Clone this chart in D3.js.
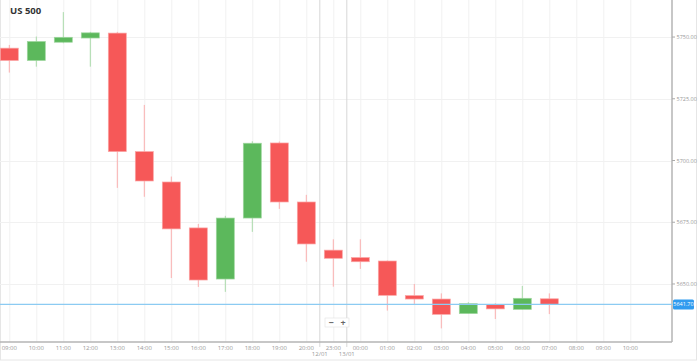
<!DOCTYPE html>
<html>
<head>
<meta charset="utf-8">
<script src="https://cdn.jsdelivr.net/npm/d3@7"></script>
<style>
  html, body { margin: 0; padding: 0; background: #fff; }
  svg { display: block; font-family: "Open Sans", Roboto, sans-serif; }
</style>
</head>
<body>
<script>
// hour slots on the axis (21:00 and 22:00 are closed)
var slots = ["09:00","10:00","11:00","12:00","13:00","14:00","15:00","16:00","17:00","18:00","19:00","20:00",
             "23:00","00:00","01:00","02:00","03:00","04:00","05:00","06:00","07:00","08:00","09:00","10:00"];
// candles, one per slot from 09:00 to 07:00
var open  = [5745.5, 5740.5, 5747.9, 5749.6, 5751.6, 5703.6, 5691.3, 5672.7, 5652.0, 5676.7, 5707.1,
             5683.2, 5663.7, 5660.7, 5659.3, 5645.3, 5643.9, 5638.0, 5641.6, 5639.7, 5644.0];
var high  = [5746.8, 5750.2, 5760.1, 5752.1, 5752.1, 5722.5, 5693.5, 5674.3, 5677.6, 5707.8, 5707.7,
             5686.1, 5668.1, 5668.1, 5659.5, 5650.0, 5646.2, 5642.6, 5642.2, 5649.2, 5646.2];
var low   = [5735.6, 5738.0, 5747.5, 5738.0, 5688.9, 5685.3, 5652.4, 5648.8, 5646.8, 5671.1, 5680.4,
             5659.0, 5648.9, 5656.1, 5639.2, 5641.9, 5632.0, 5637.9, 5635.8, 5639.6, 5637.8];
var close = [5740.5, 5748.2, 5749.9, 5751.7, 5703.6, 5691.7, 5672.3, 5651.6, 5676.7, 5707.0, 5683.2,
             5666.2, 5660.4, 5659.0, 5645.4, 5643.9, 5637.7, 5642.0, 5639.9, 5644.2, 5641.7];
var yTicks = [5650, 5675, 5700, 5725, 5750];
// day separators: between slot 11/12 and 12/13
var days = [{at: 11.5, label: "12/01"}, {at: 12.5, label: "13/01"}];
var lastPrice = 5641.7;

var W = 698, H = 363;
var plotRight = 672, plotBottom = 342;

var svg = d3.select("body").append("svg")
    .attr("width", W).attr("height", H);

// outer frame
svg.append("rect")
    .attr("x", 0.5).attr("y", -1).attr("width", W - 2).attr("height", 361)
    .attr("fill", "none").attr("stroke", "#e6e6e6");

var x = d3.scaleLinear().domain([0, 23]).range([9.3, 630.3]);
var y = d3.scaleLinear().domain([5626.5, 5765]).range([plotBottom, 0]);

// grid
svg.append("g").selectAll("line").data(slots).enter().append("line")
    .attr("x1", function(d, i) { return x(i) + 0.5; })
    .attr("x2", function(d, i) { return x(i) + 0.5; })
    .attr("y1", 0).attr("y2", plotBottom)
    .attr("stroke", "#f1f1f1");
svg.append("g").selectAll("line").data(yTicks).enter().append("line")
    .attr("x1", 0).attr("x2", plotRight)
    .attr("y1", function(d) { return Math.round(y(d)) + 0.5; })
    .attr("y2", function(d) { return Math.round(y(d)) + 0.5; })
    .attr("stroke", "#f1f1f1");

// day separators
svg.append("g").selectAll("line").data(days).enter().append("line")
    .attr("x1", function(d) { return x(d.at); })
    .attr("x2", function(d) { return x(d.at); })
    .attr("y1", 0).attr("y2", plotBottom + 5)
    .attr("stroke", "#d8d8d8");
svg.append("g").selectAll("text").data(days).enter().append("text")
    .attr("x", function(d) { return x(d.at); })
    .attr("y", 356)
    .attr("text-anchor", "middle")
    .attr("font-size", 6)
    .attr("fill", "#999")
    .text(function(d) { return d.label; });

// candles
var candles = open.map(function(o, i) {
  return {i: i, o: o, h: high[i], l: low[i], c: close[i]};
});
var bw = 18;
var g = svg.append("g").selectAll("g").data(candles).enter().append("g");
g.append("line")
    .attr("x1", function(d) { return x(d.i); })
    .attr("x2", function(d) { return x(d.i); })
    .attr("y1", function(d) { return y(d.h); })
    .attr("y2", function(d) { return y(d.l); })
    .attr("stroke", function(d) { return d.c >= d.o ? "#a9daa9" : "#fbb0b0"; })
    .attr("stroke-width", 1);
g.append("rect")
    .attr("x", function(d) { return x(d.i) - bw / 2; })
    .attr("width", bw)
    .attr("y", function(d) { return y(Math.max(d.o, d.c)); })
    .attr("height", function(d) { return Math.max(1.5, Math.abs(y(d.o) - y(d.c))); })
    .attr("fill", function(d) { return d.c >= d.o ? "#5cb85c" : "#f65858"; })
    .attr("stroke", function(d) { return d.c >= d.o ? "#9fd69f" : "#fba5a5"; })
    .attr("stroke-width", 0.7);

// axes
svg.append("line")
    .attr("x1", plotRight).attr("x2", plotRight)
    .attr("y1", 0).attr("y2", plotBottom)
    .attr("stroke", "#b5b5b5").attr("stroke-width", 1.5);
svg.append("line")
    .attr("x1", 0).attr("x2", plotRight)
    .attr("y1", plotBottom).attr("y2", plotBottom)
    .attr("stroke", "#b5b5b5").attr("stroke-width", 1.5);

var yAxis = svg.append("g").attr("transform", "translate(" + plotRight + ",0)");
yAxis.selectAll("line").data(yTicks).enter().append("line")
    .attr("x1", 0).attr("x2", 3)
    .attr("y1", function(d) { return y(d); })
    .attr("y2", function(d) { return y(d); })
    .attr("stroke", "#aaa");
yAxis.selectAll("text").data(yTicks).enter().append("text")
    .attr("x", 4.5)
    .attr("y", function(d) { return y(d) + 2; })
    .attr("font-size", 5.5)
    .attr("fill", "#999")
    .text(function(d) { return d3.format(".2f")(d); });

svg.append("g").selectAll("text").data(slots).enter().append("text")
    .attr("x", function(d, i) { return x(i); })
    .attr("y", 350)
    .attr("text-anchor", "middle")
    .attr("font-size", 6)
    .attr("fill", "#999")
    .text(function(d) { return d; });

// last price line and tag
svg.append("line")
    .attr("x1", 0).attr("x2", plotRight)
    .attr("y1", y(lastPrice)).attr("y2", y(lastPrice))
    .attr("stroke", "#8ccbf2").attr("stroke-width", 1.2);
svg.append("rect")
    .attr("x", plotRight + 1).attr("y", y(lastPrice) - 5)
    .attr("width", 21).attr("height", 10).attr("rx", 1.5)
    .attr("fill", "#2f9bef");
svg.append("text")
    .attr("x", plotRight + 11.5).attr("y", y(lastPrice) + 2)
    .attr("text-anchor", "middle")
    .attr("font-size", 5.5)
    .attr("fill", "#fff")
    .text(d3.format(".2f")(lastPrice));

// zoom buttons
var zb = svg.append("g").attr("transform", "translate(325,318)");
zb.append("rect").attr("width", 24).attr("height", 9)
    .attr("fill", "#fff").attr("stroke", "#e2e2e2").attr("stroke-width", 0.6);
zb.append("text").attr("x", 6).attr("y", 7.5).attr("text-anchor", "middle")
    .attr("font-size", 9).attr("font-weight", "bold").attr("fill", "#666").text("−");
zb.append("text").attr("x", 18).attr("y", 7.5).attr("text-anchor", "middle")
    .attr("font-size", 9).attr("font-weight", "bold").attr("fill", "#666").text("+");

// title
svg.append("text")
    .attr("x", 10).attr("y", 14)
    .attr("font-size", 9.5)
    .attr("font-weight", "bold")
    .attr("fill", "#333")
    .text("US 500");
</script>
</body>
</html>
